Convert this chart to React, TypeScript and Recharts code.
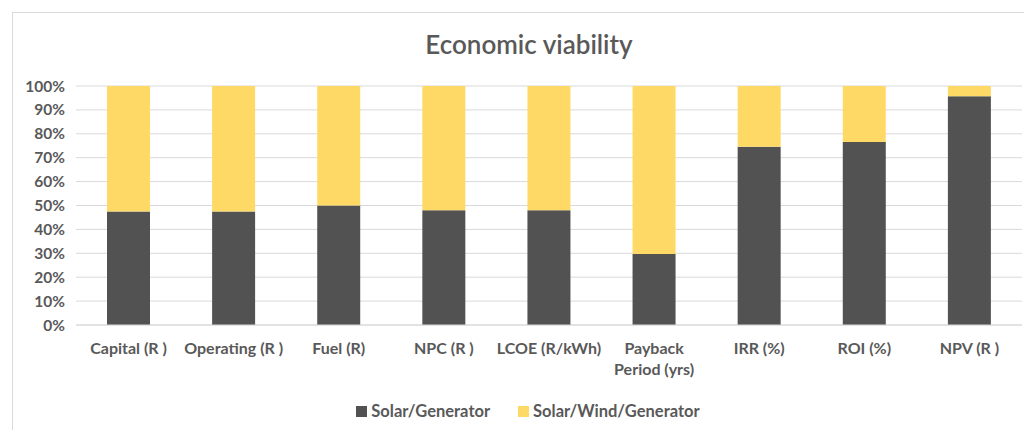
import { BarChart, Bar, XAxis, YAxis, CartesianGrid, Legend } from 'recharts';

const categories = [
  'Capital (R )',
  'Operating (R )',
  'Fuel (R)',
  'NPC (R )',
  'LCOE (R/kWh)',
  'Payback Period (yrs)',
  'IRR (%)',
  'ROI (%)',
  'NPV (R )',
];

// share of each metric, percent
const solarGenerator = [47.5, 47.5, 50, 48, 48, 29.7, 74.6, 76.6, 95.7];
const solarWindGenerator = solarGenerator.map((v) => 100 - v);

const yTicks = [0, 10, 20, 30, 40, 50, 60, 70, 80, 90, 100];

const DARK = '#525252';
const GOLD = '#FFD966';
const TEXT = '#595959';
const FONT = 'Lato, "Open Sans", sans-serif';

const data = categories.map((name, i) => ({
  name,
  sg: solarGenerator[i],
  swg: solarWindGenerator[i],
}));

function CategoryTick({ x, y, payload }: any) {
  const label: string = payload.value;
  let lines = [label];
  if (label.length > 16) {
    const cut = label.indexOf(' ');
    lines = [label.slice(0, cut), label.slice(cut + 1)];
  }
  return (
    <text x={x} y={y} textAnchor="middle" fill={TEXT} fontSize={16} fontWeight={700} fontFamily={FONT}>
      {lines.map((l, i) => (
        <tspan key={i} x={x} dy={21}>
          {l}
        </tspan>
      ))}
    </text>
  );
}

function LegendBox() {
  const items = [
    { label: 'Solar/Generator', color: DARK },
    { label: 'Solar/Wind/Generator', color: GOLD },
  ];
  return (
    <div style={{ display: 'flex', justifyContent: 'center', gap: 28, paddingLeft: 18, fontFamily: FONT, fontSize: 16.5, fontWeight: 700, color: TEXT }}>
      {items.map((it) => (
        <div key={it.label} style={{ display: 'flex', alignItems: 'center' }}>
          <span style={{ width: 11, height: 11, background: it.color, marginRight: 4, display: 'inline-block' }} />
          {it.label}
        </div>
      ))}
    </div>
  );
}

export default function App() {
  return (
    <div
      style={{
        position: 'relative',
        marginLeft: 4,
        marginTop: 4,
        width: 1020,
        height: 418,
        border: '1px solid #d9d9d9',
        borderRight: 'none',
        borderBottom: 'none',
        background: '#fff',
      }}
    >
      <div
        style={{
          position: 'absolute',
          top: 15,
          left: 0,
          width: 1032,
          textAlign: 'center',
          fontFamily: FONT,
          fontSize: 26,
          fontWeight: 600,
          color: TEXT,
        }}
      >
        Economic viability
      </div>
      <BarChart
        width={1020}
        height={418}
        data={data}
        margin={{ top: 73, right: 11, left: 3, bottom: 0 }}
        barSize={43}
      >
        <CartesianGrid vertical={false} stroke="#d9d9d9" />
        <XAxis
          dataKey="name"
          tick={<CategoryTick />}
          tickLine={false}
          axisLine={{ stroke: '#d9d9d9' }}
          height={76}
          interval={0}
        />
        <YAxis
          domain={[0, 100]}
          ticks={yTicks}
          tickFormatter={(v) => `${v}%`}
          tick={{ fontSize: 15.5, fontWeight: 700, fill: TEXT, fontFamily: FONT }}
          tickLine={false}
          axisLine={false}
          tickSize={0}
          tickMargin={11}
          width={60}
        />
        <Legend verticalAlign="bottom" height={30} content={<LegendBox />} />
        <Bar dataKey="sg" stackId="a" fill={DARK} isAnimationActive={false} />
        <Bar dataKey="swg" stackId="a" fill={GOLD} isAnimationActive={false} />
      </BarChart>
    </div>
  );
}
